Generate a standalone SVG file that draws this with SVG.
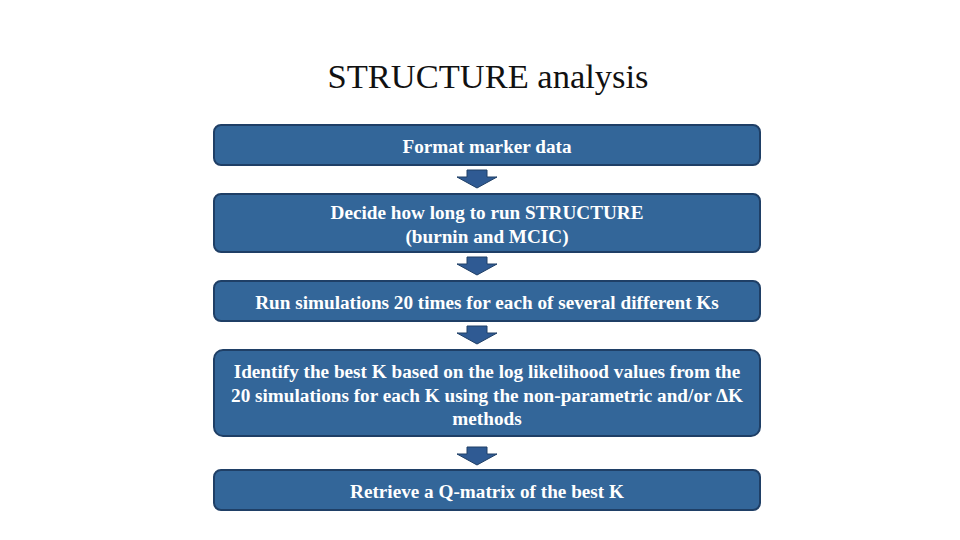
<svg xmlns="http://www.w3.org/2000/svg" width="960" height="540" viewBox="0 0 960 540">
<defs>
<style>
.box{fill:#336699;stroke:#1f3f66;stroke-width:2}
.t{font-family:"Liberation Serif","Times New Roman",serif;font-weight:bold;font-size:19.2px;fill:#ffffff;text-anchor:middle}
.arr{fill:#2f5a93;stroke:#1f3f66;stroke-width:1}
.title{font-family:"Liberation Serif","Times New Roman",serif;font-size:34.5px;fill:#111;text-anchor:middle}
</style>
<path id="ar" d="M-10,0 H10 V7 H20 L0,18 L-20,7 H-10 Z"/>
</defs>
<rect width="960" height="540" fill="#ffffff"/>
<text class="title" x="488" y="88">STRUCTURE analysis</text>
<g id="connectors">
<use href="#ar" class="arr" x="477" y="170"/>
<use href="#ar" class="arr" x="477" y="257"/>
<use href="#ar" class="arr" x="477" y="326"/>
<use href="#ar" class="arr" x="477" y="447"/>
</g>
<g id="n1"><rect class="box" x="214" y="125" width="546" height="40" rx="7"/><text class="t" x="487" y="153">Format marker data</text></g>
<g id="n2"><rect class="box" x="214" y="194" width="546" height="58" rx="7"/><text class="t" x="487" y="219">Decide how long to run STRUCTURE</text><text class="t" x="487" y="243">(burnin and MCIC)</text></g>
<g id="n3"><rect class="box" x="214" y="281" width="546" height="40" rx="7"/><text class="t" x="487" y="309">Run simulations 20 times for each of several different Ks</text></g>
<g id="n4"><rect class="box" x="214" y="350" width="546" height="86" rx="9"/><text class="t" x="487" y="378">Identify the best K based on the log likelihood values from the</text><text class="t" x="487" y="402">20 simulations for each K using the non-parametric and/or ΔK</text><text class="t" x="487" y="425">methods</text></g>
<g id="n5"><rect class="box" x="214" y="470" width="546" height="40" rx="7"/><text class="t" x="487" y="498">Retrieve a Q-matrix of the best K</text></g>
</svg>
